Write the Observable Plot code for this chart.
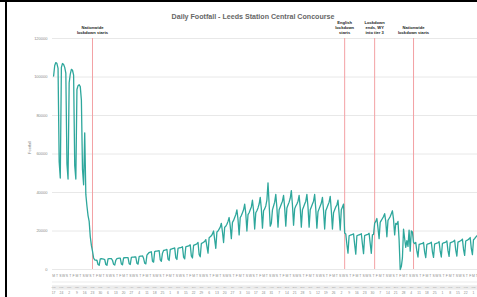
<!DOCTYPE html>
<html>
<head>
<meta charset="utf-8">
<script src="https://cdn.jsdelivr.net/npm/d3@7"></script>
<script src="https://cdn.jsdelivr.net/npm/@observablehq/plot@0.6"></script>
<style>
  body { margin: 0; background: #fff; }
  #wrap { position: relative; width: 477px; height: 297px; overflow: hidden; font-family: "Liberation Sans", Arial, sans-serif; }
  .frameL { position: absolute; left: 5px; top: 0; width: 2px; height: 297px; background: #000; }
  .frameT { position: absolute; left: 0; top: 0; width: 477px; height: 2px; background: #000; }
  #chart svg { display: block; }
</style>
</head>
<body>
<div id="wrap">
  <div id="chart"></div>
  <div class="frameL"></div>
  <div class="frameT"></div>
</div>
<script>
const chartTitle = "Daily Footfall - Leeds Station Central Concourse";

// First day of the series (Monday)
const seriesStart = "2020-02-17";

// Daily footfall, one row per week (Mon..Sun)
const weeks = [
  [100500, 106000, 107500, 107000, 104500, 56000, 47500], // 17 Feb 2020
  [105000, 107000, 106500, 105000, 102000, 55000, 47000], // 24 Feb
  [97000, 101500, 104000, 103500, 101000, 54000, 47000],  // 2 Mar
  [93500, 95500, 96000, 95000, 88000, 52000, 44000],      // 9 Mar
  [71000, 39000, 33000, 28000, 25000, 17000, 12500],      // 16 Mar
  [9500, 6000, 5000, 4800, 4800, 2600, 2200],             // 23 Mar
  [5500, 5600, 5500, 5400, 5200, 2600, 2200],             // 30 Mar
  [5500, 5700, 5700, 5600, 4800, 2700, 2300],             // 6 Apr
  [4800, 5700, 5800, 5900, 5900, 2900, 2400],             // 13 Apr
  [6000, 6100, 6200, 6200, 6200, 3000, 2600],             // 20 Apr
  [6300, 6400, 6400, 6500, 6500, 3200, 2800],             // 27 Apr
  [6700, 6900, 7000, 7100, 5800, 3300, 2900],             // 4 May
  [7500, 8200, 8800, 9000, 9200, 4300, 3800],             // 11 May
  [9300, 9500, 9600, 9700, 9800, 5000, 4300],             // 18 May
  [8500, 9900, 10000, 10200, 10400, 5400, 4700],          // 25 May
  [10400, 10600, 10800, 11000, 11200, 6000, 5200],        // 1 Jun
  [11000, 11200, 11300, 11500, 11800, 6400, 5500],        // 8 Jun
  [11800, 12000, 12200, 12400, 12800, 7000, 6000],        // 15 Jun
  [12500, 12800, 13000, 13400, 14000, 7800, 6600],        // 22 Jun
  [13500, 13800, 14200, 14600, 15500, 12000, 8500],       // 29 Jun
  [16500, 17000, 17500, 18500, 20000, 15500, 11000],      // 6 Jul
  [19500, 20000, 21000, 22000, 24000, 19500, 14000],      // 13 Jul
  [22000, 22500, 23500, 25000, 27000, 22500, 16000],      // 20 Jul
  [24500, 25500, 27000, 28500, 31000, 26000, 18000],      // 27 Jul
  [27000, 28000, 29500, 31000, 34000, 29000, 20000],      // 3 Aug
  [28500, 29500, 31000, 32500, 36000, 30500, 21000],      // 10 Aug
  [29500, 30500, 32000, 34000, 37500, 31500, 21500],      // 17 Aug
  [30500, 31500, 33000, 36000, 45000, 34000, 22500],      // 24 Aug
  [24000, 31000, 33000, 35000, 39000, 32000, 22000],      // 31 Aug
  [31000, 32500, 34000, 35500, 38500, 32000, 22500],      // 7 Sep
  [32000, 33500, 35000, 37000, 41000, 33500, 23000],      // 14 Sep
  [31500, 33000, 34000, 35500, 38500, 32000, 22000],      // 21 Sep
  [31000, 32500, 34000, 35500, 39000, 32500, 22000],      // 28 Sep
  [31000, 32500, 34000, 35500, 39000, 31500, 21500],      // 5 Oct
  [30000, 31500, 33000, 34500, 37500, 30500, 21000],      // 12 Oct
  [30500, 32000, 33500, 35000, 38000, 30500, 21000],      // 19 Oct
  [29500, 31000, 32500, 33500, 36000, 29000, 20500],      // 26 Oct
  [31000, 32500, 34000, 19000, 18500, 13000, 8500],       // 2 Nov
  [17500, 17800, 18000, 18200, 18500, 13000, 8000],       // 9 Nov
  [17500, 17800, 18000, 18200, 18600, 13200, 8200],       // 16 Nov
  [17600, 17900, 18100, 18300, 18800, 13500, 8400],       // 23 Nov
  [18000, 18200, 24000, 25000, 26500, 21500, 16000],      // 30 Nov
  [24500, 25500, 26500, 27500, 29000, 25000, 17000],      // 7 Dec
  [25500, 26500, 27500, 29000, 30500, 26000, 18000],      // 14 Dec
  [24000, 23500, 25000, 15500, 0, 1500, 6000],            // 21 Dec
  [21000, 16000, 11500, 15000, 12000, 20500, 9500],       // 28 Dec
  [20000, 19500, 14000, 13500, 14000, 9500, 6500],        // 4 Jan 2021
  [13000, 13200, 13400, 13500, 14000, 9000, 6200],        // 11 Jan
  [13000, 13300, 13500, 13700, 14200, 9200, 6300],        // 18 Jan
  [13200, 13500, 13700, 13900, 14400, 9500, 6500],        // 25 Jan
  [13500, 13800, 14000, 14200, 14800, 9800, 6800],        // 1 Feb
  [13800, 14100, 14300, 14600, 15200, 10000, 7000],       // 8 Feb
  [14200, 14500, 14800, 15100, 15800, 10500, 7300],       // 15 Feb
  [14800, 15100, 15500, 15900, 16600, 11000, 7700],       // 22 Feb
  [15500, 16000, 16800, 17500]                            // 1 Mar
];

// Event annotations
const eventDates = ["2020-03-23", "2020-11-05", "2020-12-02", "2021-01-06"];
const eventLabels = [
  "Nationwide\nlockdown starts",
  "English\nlockdown\nstarts",
  "Lockdown\nends, WY\ninto tier 3",
  "Nationwide\nlockdown starts"
];

// Axis settings
const yTicks = [0, 20000, 40000, 60000, 80000, 100000, 120000];
const xDomain = ["2020-02-16", "2021-03-04T14:00:00Z"];
const dayLetters = ["S", "M", "T", "W", "T", "F", "S"];
const monthNames = ["Jan","Feb","Mar","Apr","May","Jun","Jul","Aug","Sep","Oct","Nov","Dec"];

// ---- build tables ----
const t0 = new Date(seriesStart + "T00:00:00Z");
const data = weeks.flat().map((v, i) => ({ date: d3.utcDay.offset(t0, i), value: v }));
const lastDate = data[data.length - 1].date;
const events = eventDates.map((d, i) => ({ date: new Date(d + "T00:00:00Z"), label: eventLabels[i] }));
const letterDates = d3.range(0, data.length, 3).map(i => d3.utcDay.offset(t0, i));
const mondays = d3.utcMonday.range(t0, d3.utcDay.offset(lastDate, 1));

const axisGray = "#8a8a8a";

const plot = Plot.plot({
  width: 477,
  height: 297,
  marginLeft: 52,
  marginRight: 0,
  marginTop: 38,
  marginBottom: 28,
  style: { fontFamily: "Liberation Sans, Arial, sans-serif", background: "transparent" },
  x: { type: "utc", domain: xDomain.map(d => new Date(d.length === 10 ? d + "T00:00:00Z" : d)), axis: null },
  y: { domain: [0, 120000], axis: null },
  marks: [
    Plot.gridY(yTicks, { stroke: "#e2e2e2", strokeOpacity: 1, strokeWidth: 0.8 }),
    Plot.axisY(yTicks, {
      tickSize: 0, tickPadding: 5, fontSize: 4, fill: axisGray,
      tickFormat: d => String(d), label: null
    }),
    Plot.text(["Footfall"], { frameAnchor: "left", dx: -23, rotate: -90, fontSize: 4, fill: axisGray }),
    Plot.text([chartTitle], {
      frameAnchor: "top", dx: -12, dy: -25, fontSize: 7.1, fontWeight: "bold", fill: "#666666"
    }),
    Plot.ruleX(events, { x: "date", y1: 0, y2: 120000, stroke: "#f3a1a4", strokeWidth: 1 }),
    Plot.text(events, {
      x: "date", text: "label", frameAnchor: "top", lineAnchor: "bottom", dy: -5,
      fontSize: 4.1, fontWeight: "bold", fill: "#222", lineHeight: 1.2
    }),
    Plot.lineY(data, { x: "date", y: "value", stroke: "#2ea79c", strokeWidth: 1.3 }),
    // weekday letters (every 3 days)
    Plot.text(letterDates, {
      x: d => d, text: d => dayLetters[d.getUTCDay()], frameAnchor: "bottom",
      dy: 7, fontSize: 3.4, fill: axisGray
    }),
    Plot.ruleY([0], { dy: 12.5, stroke: "#dddddd", strokeWidth: 0.6 }),
    Plot.ruleY([0], { dy: 18, stroke: "#ececec", strokeWidth: 4.5 }),
    Plot.text(mondays, {
      x: d => d, text: d => monthNames[d.getUTCMonth()], frameAnchor: "bottom",
      dy: 18, fontSize: 2.4, fill: "#a0a0a0"
    }),
    Plot.text(mondays, {
      x: d => d, text: d => String(d.getUTCDate()), frameAnchor: "bottom",
      dy: 24, fontSize: 3.4, fill: axisGray
    })
  ]
});
document.getElementById("chart").appendChild(plot);
</script>
</body>
</html>
